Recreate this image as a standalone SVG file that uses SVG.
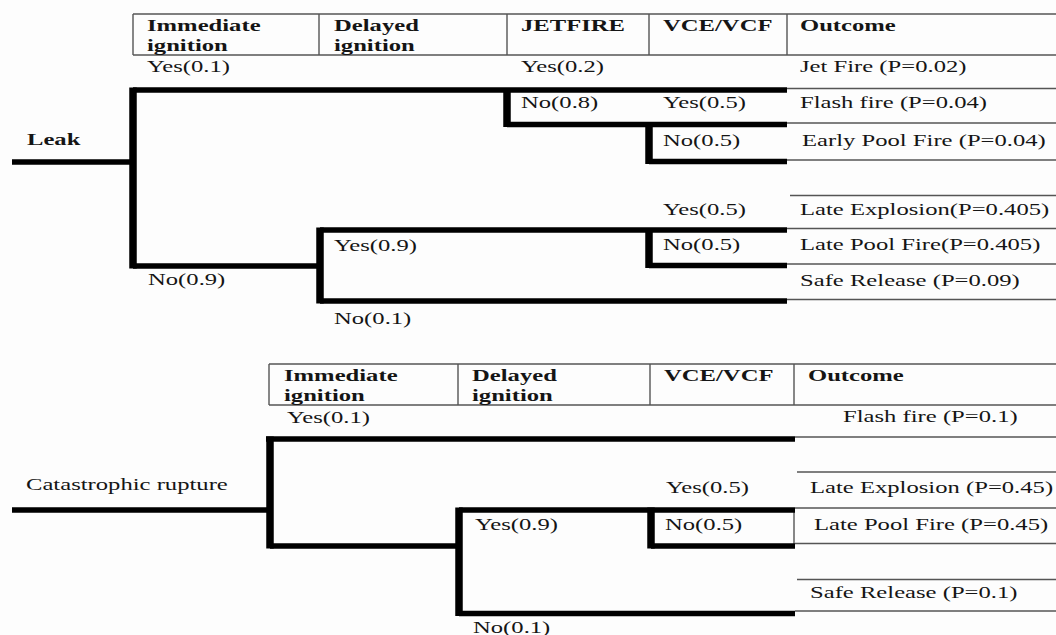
<svg xmlns="http://www.w3.org/2000/svg" width="1056" height="635" viewBox="0 0 1056 635">
<style>
text{font-family:"Liberation Serif","Times New Roman",serif;font-size:17.6px;fill:#151515}
.b{font-weight:bold}
.h{stroke:#000;stroke-width:5.5;fill:none}
.v{stroke:#000;stroke-width:7.5;fill:none}
.t{stroke:#555;stroke-width:1.4;fill:none}
</style>
<rect width="1056" height="635" fill="#fdfdfd"/>
<g id="leak-header">
<path class="t" d="M133 14H1056M133 55H1056M133 14V55M319 14V55M507 14V55M649 14V55M787 14V55"/>
<text class="b" transform="translate(147 31) scale(1.4 1)">Immediate</text>
<text class="b" transform="translate(147 51) scale(1.4 1)">ignition</text>
<text class="b" transform="translate(334 31) scale(1.4 1)">Delayed</text>
<text class="b" transform="translate(334 51) scale(1.4 1)">ignition</text>
<text class="b" transform="translate(521 31) scale(1.4 1)">JETFIRE</text>
<text class="b" transform="translate(663 31) scale(1.4 1)">VCE/VCF</text>
<text class="b" transform="translate(800 31) scale(1.4 1)">Outcome</text>
</g>
<g id="leak-root"><text class="b" transform="translate(27 145) scale(1.4 1)">Leak</text></g>
<g id="leak-labels">
<text transform="translate(147 72) scale(1.4 1)">Yes(0.1)</text>
<text transform="translate(521 72) scale(1.4 1)">Yes(0.2)</text>
<text transform="translate(521 108) scale(1.4 1)">No(0.8)</text>
<text transform="translate(663 108) scale(1.4 1)">Yes(0.5)</text>
<text transform="translate(663 146) scale(1.4 1)">No(0.5)</text>
<text transform="translate(663 215) scale(1.4 1)">Yes(0.5)</text>
<text transform="translate(663 250) scale(1.4 1)">No(0.5)</text>
<text transform="translate(334 251) scale(1.4 1)">Yes(0.9)</text>
<text transform="translate(148 285) scale(1.4 1)">No(0.9)</text>
<text transform="translate(334 324) scale(1.4 1)">No(0.1)</text>
</g>
<g id="leak-outcomes">
<text transform="translate(800 72) scale(1.4 1)">Jet Fire (P=0.02)</text>
<text transform="translate(800 108) scale(1.4 1)">Flash fire (P=0.04)</text>
<text transform="translate(802 145.5) scale(1.4 1)">Early Pool Fire (P=0.04)</text>
<text transform="translate(800 215) scale(1.4 1)">Late Explosion(P=0.405)</text>
<text transform="translate(800 250) scale(1.4 1)">Late Pool Fire(P=0.405)</text>
<text transform="translate(800 286) scale(1.4 1)">Safe Release (P=0.09)</text>
</g>
<g id="rupture-header">
<path class="t" d="M269 364H1056M269 405H1056M269 364V405M458 364V405M650 364V405M794 364V405"/>
<text class="b" transform="translate(284 381) scale(1.4 1)">Immediate</text>
<text class="b" transform="translate(284 401) scale(1.4 1)">ignition</text>
<text class="b" transform="translate(472 381) scale(1.4 1)">Delayed</text>
<text class="b" transform="translate(472 401) scale(1.4 1)">ignition</text>
<text class="b" transform="translate(664 381) scale(1.4 1)">VCE/VCF</text>
<text class="b" transform="translate(808 381) scale(1.4 1)">Outcome</text>
</g>
<g id="rupture-root"><text transform="translate(26 490) scale(1.4 1)">Catastrophic rupture</text></g>
<g id="rupture-labels">
<text transform="translate(287 423) scale(1.4 1)">Yes(0.1)</text>
<text transform="translate(666 493) scale(1.4 1)">Yes(0.5)</text>
<text transform="translate(475 530) scale(1.4 1)">Yes(0.9)</text>
<text transform="translate(665 530) scale(1.4 1)">No(0.5)</text>
<text transform="translate(473 633) scale(1.4 1)">No(0.1)</text>
</g>
<g id="rupture-outcomes">
<text transform="translate(843 422) scale(1.4 1)">Flash fire (P=0.1)</text>
<text transform="translate(810 493) scale(1.4 1)">Late Explosion (P=0.45)</text>
<text transform="translate(814 530) scale(1.4 1)">Late Pool Fire (P=0.45)</text>
<text transform="translate(810 598) scale(1.4 1)">Safe Release (P=0.1)</text>
</g>
<g id="connectors">
<path class="t" d="M787 88.5H1056M787 123H1056M787 160H1056M790 195.5H1056M787 228.5H1056M787 264H1056M787 299.5H1056"/>
<path class="h" d="M12 162H133M133 90H787M507 124.5H787M649 161.5H787M133 266H320M320 230H787M649 265.5H787M320 301H787"/>
<path class="v" d="M133 87.5V268.5M507 90V127M649 122V164M320 227.5V303.5M649 228V268"/>
<path class="t" d="M795 437H1056M797 472H1056M795 508H1056M795 543.5H1056M797 579.5H1056M795 611H1056M794 510V546"/>
<path class="h" d="M12 510H270M266 439H795M270 546H459M459 510H795M651 546H795M459 613.5H795"/>
<path class="v" d="M270 436.5V548.5M459 507.5V616M651 507.5V548.5"/>
</g>
</svg>
